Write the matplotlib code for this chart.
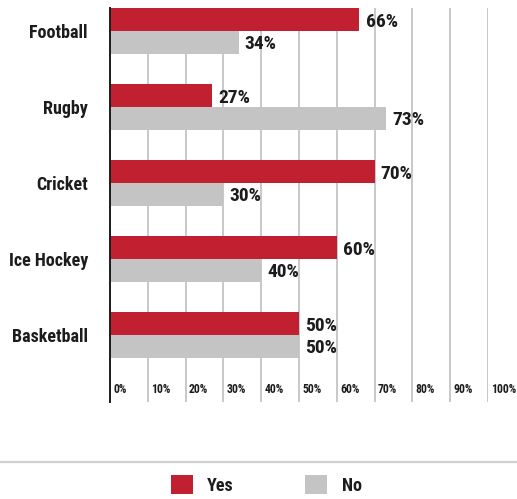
import matplotlib
matplotlib.use('Agg')
import matplotlib.pyplot as plt
from matplotlib import font_manager
from matplotlib.patches import Patch
from matplotlib.lines import Line2D

sports = ['Football', 'Rugby', 'Cricket', 'Ice Hockey', 'Basketball']
yes_pct = [66, 27, 70, 60, 50]
no_pct = [34, 73, 30, 40, 50]
tick_vals = [0, 10, 20, 30, 40, 50, 60, 70, 80, 90, 100]

RED = '#c0202f'
GREY = '#c3c4c3'
INK = '#1c1c1c'

# pick a narrow face if one is installed
installed = {f.name for f in font_manager.fontManager.ttflist}
family = 'DejaVu Sans'
for cand in ['Liberation Sans Narrow', 'Roboto Condensed', 'Open Sans Condensed']:
    if cand in installed:
        family = cand
        break
plt.rcParams['font.family'] = [family, 'DejaVu Sans']
plt.rcParams['font.stretch'] = 'condensed'
plt.rcParams['font.weight'] = 'bold'

fig = plt.figure(figsize=(5.17, 4.99), dpi=100)
ax = fig.add_axes([0.2128, 0.1944, 0.7311, 0.7896])

bh = 0.3026
pos = list(range(len(sports)))
ax.barh([p - bh / 2 for p in pos], yes_pct, height=bh, color=RED, zorder=3)
ax.barh([p + bh / 2 for p in pos], no_pct, height=bh, color=GREY, zorder=3)

for p, v in zip(pos, yes_pct):
    ax.text(v + 1.6, p - bh / 2 + 0.03, f'{v}%', va='center', ha='left',
            fontsize=14, fontweight='bold', color=INK, zorder=4)
for p, v in zip(pos, no_pct):
    ax.text(v + 1.6, p + bh / 2 + 0.02, f'{v}%', va='center', ha='left',
            fontsize=14, fontweight='bold', color=INK, zorder=4)

ax.set_xlim(0, 100)
ax.set_ylim(4.88, -0.30)
ax.set_yticks(pos)
ax.set_yticklabels(sports, fontsize=13, fontweight='bold', color=INK)
ax.tick_params(axis='y', length=0, pad=16)
ax.set_xticks(tick_vals)
ax.set_xticklabels([])
ax.tick_params(axis='x', length=0)
ax.xaxis.grid(True, color='#c8c8c8', linewidth=1.4, zorder=0)
for s in ['top', 'right', 'bottom']:
    ax.spines[s].set_visible(False)
ax.spines['left'].set_color(INK)
ax.spines['left'].set_linewidth(1.4)
ax.spines['left'].set_zorder(5)

# percentage labels sit beside each gridline near the bottom
for t in tick_vals:
    ax.text(t + 0.9, 0.015, f'{t}%', transform=ax.get_xaxis_transform(),
            ha='left', va='bottom', fontsize=8.5, fontweight='bold', color=INK)

fig.add_artist(Line2D([0, 1], [0.0741, 0.0741], transform=fig.transFigure,
                      color='#d0d0d0', linewidth=1.6))

handles = [Patch(facecolor=RED, edgecolor='none', label='Yes'),
           Patch(facecolor=GREY, edgecolor='none', label='No')]
leg = fig.legend(handles=handles, loc='center', bbox_to_anchor=(0.515, 0.028),
                 ncol=2, frameon=False, handlelength=1.22, handleheight=1.22,
                 handletextpad=0.8, columnspacing=3.95, borderpad=0,
                 prop={'size': 13, 'weight': 'bold'})
for txt in leg.get_texts():
    txt.set_color(INK)

fig.savefig('out.png', dpi=100, facecolor='white')
